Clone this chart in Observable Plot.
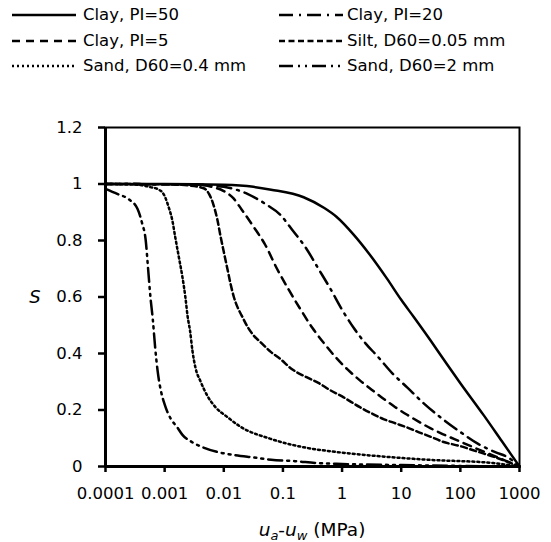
<!DOCTYPE html>
<html>
<head>
<meta charset="utf-8">
<script src="https://cdn.jsdelivr.net/npm/d3@7"></script>
<script src="https://cdn.jsdelivr.net/npm/@observablehq/plot@0.6"></script>
<style>
  body { margin: 0; background: #fff; font-family: "DejaVu Sans", sans-serif; color: #000; }
  #legend { position: relative; width: 551px; height: 90px; }
  .sw { position: absolute; }
  .lt { position: absolute; font-size: 16.5px; line-height: 20px; white-space: nowrap; }
</style>
</head>
<body>
<div id="legend"></div>
<div id="chart"></div>
<script>
// ---- Series names ----
const seriesNames = ["Clay, PI=50", "Clay, PI=20", "Clay, PI=5", "Silt, D60=0.05 mm", "Sand, D60=0.4 mm", "Sand, D60=2 mm"];

// ---- Data: suction ua-uw (MPa) and degree of saturation S ----
const clay50Suction = [0.0001, 0.001, 0.01, 0.0316, 0.0631, 0.224, 0.501, 0.794, 1.58, 2.82, 5.75, 10, 16.2, 31.6, 60.3, 100, 251, 501, 1000];
const clay50S       = [1.0, 1.0, 0.997, 0.99, 0.98, 0.953, 0.915, 0.885, 0.82, 0.755, 0.665, 0.59, 0.53, 0.445, 0.36, 0.295, 0.18, 0.09, 0.0];

const clay20Suction = [0.0001, 0.00316, 0.01, 0.0251, 0.0501, 0.0912, 0.141, 0.251, 0.398, 0.631, 1, 1.58, 2.51, 3.98, 7.08, 12.6, 25.1, 50.1, 100, 200, 398, 631, 1000];
const clay20S       = [1.0, 0.998, 0.99, 0.965, 0.93, 0.89, 0.84, 0.77, 0.70, 0.63, 0.555, 0.49, 0.435, 0.39, 0.33, 0.28, 0.22, 0.168, 0.122, 0.08, 0.05, 0.033, 0.0];

const clay5Suction = [0.0001, 0.00316, 0.00631, 0.01, 0.0145, 0.02, 0.0316, 0.0501, 0.0794, 0.126, 0.2, 0.316, 0.501, 0.794, 1.26, 2.0, 3.16, 5.01, 7.94, 12.6, 20, 31.6, 50.1, 79.4, 158, 398, 1000];
const clay5S       = [1.0, 0.998, 0.99, 0.975, 0.95, 0.91, 0.85, 0.785, 0.70, 0.625, 0.555, 0.49, 0.435, 0.385, 0.342, 0.305, 0.272, 0.24, 0.21, 0.183, 0.158, 0.135, 0.115, 0.097, 0.07, 0.035, 0.0];

const siltSuction = [0.0001, 0.001, 0.00251, 0.00457, 0.00562, 0.00661, 0.00776, 0.00891, 0.01, 0.0115, 0.0129, 0.0148, 0.017, 0.02, 0.0251, 0.0316, 0.0417, 0.0631, 0.0912, 0.135, 0.251, 0.398, 0.631, 1, 2.0, 3.16, 5.01, 7.94, 12.6, 20, 31.6, 50.1, 100, 200, 398, 1000];
const siltS       = [1.0, 0.999, 0.995, 0.985, 0.965, 0.93, 0.875, 0.81, 0.76, 0.70, 0.65, 0.60, 0.565, 0.535, 0.495, 0.465, 0.44, 0.405, 0.38, 0.348, 0.316, 0.296, 0.27, 0.248, 0.21, 0.188, 0.168, 0.153, 0.138, 0.121, 0.105, 0.088, 0.072, 0.052, 0.032, 0.0];

const sand04Suction = [0.0001, 0.000316, 0.000575, 0.000794, 0.000955, 0.00102, 0.00117, 0.00135, 0.00151, 0.00174, 0.002, 0.00224, 0.00245, 0.00269, 0.00295, 0.00331, 0.00407, 0.00525, 0.00724, 0.0115, 0.0191, 0.0617, 0.224, 0.832, 3.02, 27.5, 363, 1000];
const sand04S       = [1.0, 0.998, 0.989, 0.98, 0.965, 0.953, 0.918, 0.871, 0.812, 0.741, 0.67, 0.60, 0.53, 0.48, 0.41, 0.351, 0.30, 0.251, 0.21, 0.175, 0.141, 0.098, 0.068, 0.051, 0.039, 0.024, 0.012, 0.0];

const sand2Suction = [0.0001, 0.000158, 0.000251, 0.000347, 0.000417, 0.000479, 0.000525, 0.000575, 0.000631, 0.000692, 0.000759, 0.000871, 0.001, 0.00126, 0.00162, 0.002, 0.00282, 0.00398, 0.00794, 0.0158, 0.0316, 0.0631, 0.158, 0.398, 1, 10, 100, 1000];
const sand2S       = [0.983, 0.965, 0.945, 0.912, 0.86, 0.80, 0.70, 0.60, 0.52, 0.42, 0.34, 0.265, 0.22, 0.17, 0.14, 0.112, 0.088, 0.072, 0.051, 0.04, 0.032, 0.024, 0.019, 0.012, 0.009, 0.005, 0.002, 0.0];

// ---- Axis ticks ----
const xTicks = [0.0001, 0.001, 0.01, 0.1, 1, 10, 100, 1000];
const xTickLabels = ["0.0001", "0.001", "0.01", "0.1", "1", "10", "100", "1000"];
const yTicks = [0, 0.2, 0.4, 0.6, 0.8, 1.0, 1.2];
const yTickLabels = ["0", "0.2", "0.4", "0.6", "0.8", "1", "1.2"];

// ---- Line styles ----
const dashArrays = ["none", "14,6,2,6", "8,6", "6,3.5", "2,3", "14,5,2,5,2,5"];

const seriesData = [
  [clay50Suction, clay50S],
  [clay20Suction, clay20S],
  [clay5Suction, clay5S],
  [siltSuction, siltS],
  [sand04Suction, sand04S],
  [sand2Suction, sand2S]
];

// ---- Legend ----
const legend = document.getElementById("legend");
const legendPos = [
  {sx: 12, tx: 83, cy: 15}, {sx: 279, tx: 347, cy: 15},
  {sx: 12, tx: 83, cy: 41}, {sx: 279, tx: 347, cy: 41},
  {sx: 12, tx: 83, cy: 66}, {sx: 279, tx: 347, cy: 66}
];
seriesNames.forEach((name, i) => {
  const p = legendPos[i];
  const svgNS = "http://www.w3.org/2000/svg";
  const sw = document.createElementNS(svgNS, "svg");
  sw.setAttribute("class", "sw");
  sw.setAttribute("width", 64);
  sw.setAttribute("height", 6);
  sw.style.left = p.sx + "px";
  sw.style.top = (p.cy - 3) + "px";
  const ln = document.createElementNS(svgNS, "line");
  ln.setAttribute("x1", 0); ln.setAttribute("x2", 64);
  ln.setAttribute("y1", 3); ln.setAttribute("y2", 3);
  ln.setAttribute("stroke", "#000");
  ln.setAttribute("stroke-width", 2.5);
  if (dashArrays[i] !== "none") ln.setAttribute("stroke-dasharray", dashArrays[i]);
  sw.appendChild(ln);
  legend.appendChild(sw);
  const t = document.createElement("div");
  t.className = "lt";
  t.style.left = p.tx + "px";
  t.style.top = (p.cy - 10) + "px";
  t.textContent = name;
  legend.appendChild(t);
});

// ---- Build tidy table ----
const rows = [];
seriesData.forEach(([xv, yv], i) => {
  xv.forEach((x, j) => rows.push({series: seriesNames[i], x, S: yv[j]}));
});

const lineMarks = seriesNames.map((name, i) =>
  Plot.line(rows.filter(r => r.series === name), {
    x: "x", y: "S", stroke: "#000", strokeWidth: 2.5,
    strokeDasharray: dashArrays[i] === "none" ? undefined : dashArrays[i],
    curve: "monotone-x"
  })
);

const chart = Plot.plot({
  width: 551,
  height: 452,
  marginLeft: 105,
  marginRight: 32,
  marginTop: 37,
  marginBottom: 76,
  style: {fontFamily: "DejaVu Sans, sans-serif", fontSize: "16.5px", color: "#000", background: "#fff"},
  x: {type: "log", domain: [0.0001, 1000]},
  y: {domain: [0, 1.2]},
  marks: [
    ...lineMarks,
    Plot.frame({stroke: "#000", strokeWidth: 2}),
    Plot.ruleX([0.0001], {stroke: "#000", strokeWidth: 3}),
    Plot.ruleY([0], {stroke: "#000", strokeWidth: 3}),
    Plot.axisX({ticks: xTicks, tickFormat: d => xTickLabels[xTicks.indexOf(d)], tickSize: 6, tickPadding: 15, strokeWidth: 2.5, label: null}),
    Plot.axisY({ticks: yTicks, tickFormat: d => yTickLabels[yTicks.indexOf(d)], tickSize: 7, tickPadding: 16, strokeWidth: 2.5, label: null})
  ]
});

document.getElementById("chart").appendChild(chart);

// ---- Axis titles with italic and subscripts ----
const xs = chart.scale("x"), ys = chart.scale("y");
const svg = d3.select(chart);
const xMid = (xs.range[0] + xs.range[1]) / 2;
const xt = svg.append("text")
  .attr("x", xMid).attr("y", 446)
  .attr("text-anchor", "middle")
  .attr("font-family", "DejaVu Sans, sans-serif")
  .attr("font-size", 18.5)
  .attr("fill", "#000");
xt.append("tspan").attr("font-style", "italic").text("u");
xt.append("tspan").attr("font-style", "italic").attr("font-size", 13).attr("dy", 4).text("a");
xt.append("tspan").attr("dy", -4).text("-");
xt.append("tspan").attr("font-style", "italic").text("u");
xt.append("tspan").attr("font-style", "italic").attr("font-size", 13).attr("dy", 4).text("w");
xt.append("tspan").attr("dy", -4).text(" (MPa)");

svg.append("text")
  .attr("x", 35).attr("y", ys.apply(0.6))
  .attr("dy", "0.35em")
  .attr("text-anchor", "middle")
  .attr("font-family", "DejaVu Sans, sans-serif")
  .attr("font-style", "italic")
  .attr("font-size", 18)
  .attr("fill", "#000")
  .text("S");
</script>
</body>
</html>
